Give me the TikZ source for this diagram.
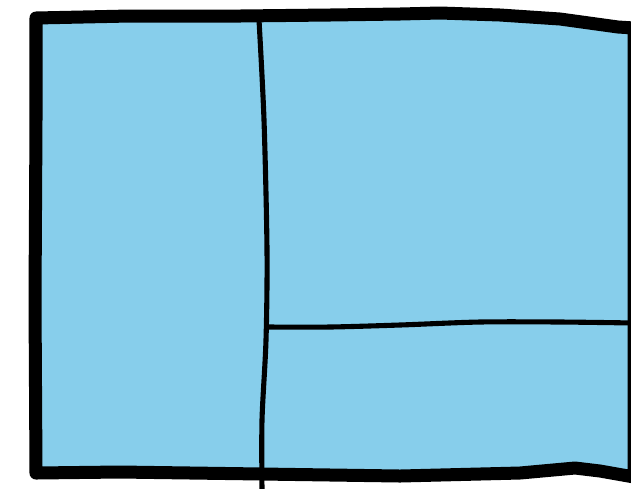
\documentclass[tikz,border=0pt]{standalone}
\definecolor{paneblue}{RGB}{135,206,235}

\begin{document}
\begin{tikzpicture}[x=0.02cm,y=-0.02cm]
\useasboundingbox (0,0) rectangle (631,488);
\clip (0,0) rectangle (631,488);
\filldraw[fill=paneblue,line width=7.4pt,line join=round] (36,18)--(130,16)--(240,16)--(330,15)--(400,14)--(440,13)--(500,15)--(560,19)--(618,27)--(634,28)
  --(634,477)--(600,471)--(575,468)--(520,473)--(400,476)--(262,474)--(120,472)--(36,473)--(35,300)--(36,120)--cycle;
\coordinate (split) at (268,327);
\draw[line width=2.9pt,line cap=round] plot[smooth] coordinates {(259,20) (264,120) (267,250) (266,340) (262,420) (262,490)};
\draw[line width=2.9pt,line cap=round] plot[smooth] coordinates {(split) (330,327) (400,325) (480,322) (560,322) (634,323)};
\end{tikzpicture}
\end{document}
